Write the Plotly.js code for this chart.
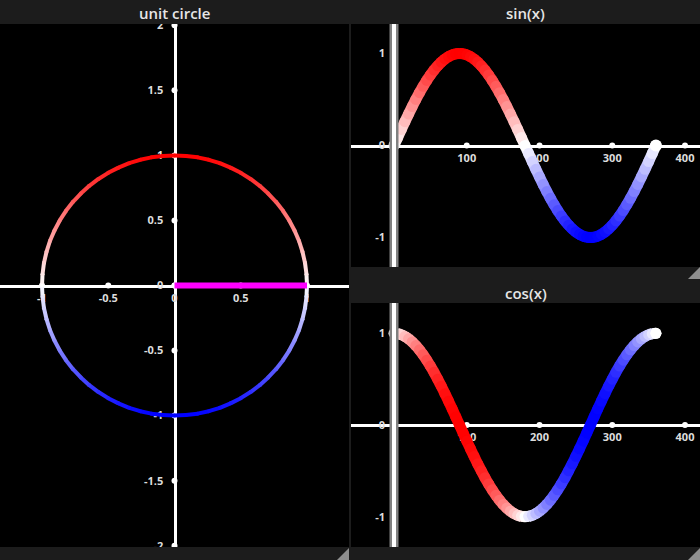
<!DOCTYPE html>
<html>
<head>
<meta charset="utf-8">
<script src="https://cdn.plot.ly/plotly-3.0.1.min.js"></script>
<style>html,body{margin:0;padding:0;background:#1c1c1c;}#chart{width:700px;height:560px;}</style>
</head>
<body>
<div id="chart"></div>
<script>
// ---- data (angle in degrees, sampled every 5°) ----
const deg = [0,5,10,15,20,25,30,35,40,45,50,55,60,65,70,75,80,85,90,95,100,105,110,115,120,125,130,135,140,145,150,155,160,165,170,175,180,185,190,195,200,205,210,215,220,225,230,235,240,245,250,255,260,265,270,275,280,285,290,295,300,305,310,315,320,325,330,335,340,345,350,355,360];
const sinV = [0,0.087,0.174,0.259,0.342,0.423,0.5,0.574,0.643,0.707,0.766,0.819,0.866,0.906,0.94,0.966,0.985,0.996,1,0.996,0.985,0.966,0.94,0.906,0.866,0.819,0.766,0.707,0.643,0.574,0.5,0.423,0.342,0.259,0.174,0.087,0,-0.087,-0.174,-0.259,-0.342,-0.423,-0.5,-0.574,-0.643,-0.707,-0.766,-0.819,-0.866,-0.906,-0.94,-0.966,-0.985,-0.996,-1,-0.996,-0.985,-0.966,-0.94,-0.906,-0.866,-0.819,-0.766,-0.707,-0.643,-0.574,-0.5,-0.423,-0.342,-0.259,-0.174,-0.087,0];
const cosV = [1,0.996,0.985,0.966,0.94,0.906,0.866,0.819,0.766,0.707,0.643,0.574,0.5,0.423,0.342,0.259,0.174,0.087,0,-0.087,-0.174,-0.259,-0.342,-0.423,-0.5,-0.574,-0.643,-0.707,-0.766,-0.819,-0.866,-0.906,-0.94,-0.966,-0.985,-0.996,-1,-0.996,-0.985,-0.966,-0.94,-0.906,-0.866,-0.819,-0.766,-0.707,-0.643,-0.574,-0.5,-0.423,-0.342,-0.259,-0.174,-0.087,0,0.087,0.174,0.259,0.342,0.423,0.5,0.574,0.643,0.707,0.766,0.819,0.866,0.906,0.94,0.966,0.985,0.996,1];
const circleXTicks = [-1,-0.5,0,0.5,1];
const circleYTicks = [-2,-1.5,-1,-0.5,0,0.5,1,1.5,2];
const waveXTicks = [0,100,200,300,400];
const waveYTicks = [-1,0,1];
const panelTitles = ['unit circle','sin(x)','cos(x)'];

// ---- geometry helpers ----
const W = 700, H = 560;
const px = p => p / W;
const py = p => 1 - p / H;
const dL = {x:[0, px(349)], y:[py(547), py(24)]};
const dS = {x:[px(351), 1], y:[py(267), py(24)]};
const dC = {x:[px(351), 1], y:[py(547), py(303)]};
const rLx = [-1.317, 1.317], rLy = [-2.01, 2.01];
const rWx = [-59.1, 420.6], rSy = [-1.32, 1.32], rCy = [-1.33, 1.33];
const posAt = (v, r, d) => d[0] + (v - r[0]) / (r[1] - r[0]) * (d[1] - d[0]);

function col(v){
  v = Math.max(-1, Math.min(1, v));
  if (v >= 0){ const g = Math.round(255*(1-v)); return `rgb(255,${g},${g})`; }
  const g = Math.round(255*(1+v)); return `rgb(${g},${g},255)`;
}

const traces = [];
function dots(xs, ys, xa, ya){
  traces.push({type:'scatter', mode:'markers', x:xs, y:ys, xaxis:xa, yaxis:ya,
    marker:{size:6, color:'#ffffff'}, hoverinfo:'skip', showlegend:false});
}
function curve(xs, ys, cs, xa, ya, width){
  for (let i = 0; i < xs.length - 1; i++){
    traces.push({type:'scatter', mode:'lines', x:[xs[i], xs[i+1]], y:[ys[i], ys[i+1]],
      xaxis:xa, yaxis:ya, line:{color:col((cs[i]+cs[i+1])/2), width:width},
      hoverinfo:'skip', showlegend:false});
  }
  traces.push({type:'scatter', mode:'markers', x:xs, y:ys, xaxis:xa, yaxis:ya,
    marker:{size:width, color:cs.map(col), line:{width:0}}, hoverinfo:'skip', showlegend:false});
}
const cur = deg.length - 1;

// unit circle
dots(circleXTicks, circleXTicks.map(()=>0), 'x', 'y');
dots(circleYTicks.map(()=>0), circleYTicks, 'x', 'y');
curve(cosV, sinV, sinV, 'x', 'y', 4);
traces.push({type:'scatter', mode:'lines', x:[0, cosV[cur]], y:[0, sinV[cur]], xaxis:'x', yaxis:'y',
  line:{color:'#ff00ff', width:6}, hoverinfo:'skip', showlegend:false});

// sin
dots(waveXTicks, waveXTicks.map(()=>0), 'x2', 'y2');
curve(deg, sinV, sinV, 'x2', 'y2', 11);
traces.push({type:'scatter', mode:'markers', x:[deg[cur]], y:[sinV[cur]], xaxis:'x2', yaxis:'y2',
  marker:{size:12, color:'#ffffff'}, hoverinfo:'skip', showlegend:false});

// cos
dots(waveXTicks, waveXTicks.map(()=>0), 'x3', 'y3');
curve(deg, cosV, sinV, 'x3', 'y3', 11);
traces.push({type:'scatter', mode:'markers', x:[deg[cur]], y:[cosV[cur]], xaxis:'x3', yaxis:'y3',
  marker:{size:11, color:'#ffffff'}, hoverinfo:'skip', showlegend:false});

const tickfont = {family:'Open Sans', size:11, color:'#dddddd', weight:'bold'};
const baseAx = {showgrid:false, zeroline:false, ticks:'', tickfont:tickfont, layer:'below traces', fixedrange:true};

function xa(d, r, dy, ry, tv){
  return Object.assign({}, baseAx, {domain:d, range:r, anchor:'free', position:posAt(0, ry, dy),
    tickmode:'array', tickvals:tv, ticktext:tv.map(String), showline:true, linecolor:'#ffffff', linewidth:3, ticklabelstandoff:1});
}
function ya(d, r, dx, rx, tv, line, standoff){
  return Object.assign({}, baseAx, {domain:d, range:r, anchor:'free', position:posAt(0, rx, dx),
    tickmode:'array', tickvals:tv, ticktext:tv.map(String), showline:line, linecolor:'#ffffff', linewidth:3, ticklabelstandoff:standoff});
}

const shapes = [];
function rect(x0,y0,x1,y1,color){
  shapes.push({type:'rect', xref:'paper', yref:'paper', x0:px(x0), x1:px(x1), y0:py(y0), y1:py(y1),
    fillcolor:color, line:{width:0}, layer:'above'});
}
function tri(xr, yb, s){
  shapes.push({type:'path', xref:'paper', yref:'paper', layer:'above',
    path:`M ${px(xr-s)},${py(yb)} L ${px(xr)},${py(yb)} L ${px(xr)},${py(yb-s)} Z`,
    fillcolor:'#8f8f8f', line:{width:0}});
}
const barBg = '#1c1c1c';
rect(0,0,700,24,barBg);
rect(351,267,700,303,barBg);
rect(0,547,700,560,barBg);
rect(349,0,351,560,barBg);
tri(349,560,12); tri(700,279,12); tri(700,560,12);
// vertical axis bars at x = 0 in the wave panels
[['x2','y2 domain'],['x3','y3 domain']].forEach(([xr,yr])=>{
  shapes.push({type:'line', xref:xr, yref:yr, x0:0, x1:0, y0:0, y1:1, layer:'above', line:{color:'#808080', width:9}});
  shapes.push({type:'line', xref:xr, yref:yr, x0:0, x1:0, y0:0, y1:1, layer:'above', line:{color:'#ffffff', width:4}});
});

const tfont = {family:'Open Sans', size:15, color:'#e6e6e6', weight:600};
const annotations = [
  {text:panelTitles[0], x:px(174.5), y:py(13)},
  {text:panelTitles[1], x:px(525.5), y:py(13)},
  {text:panelTitles[2], x:px(525.5), y:py(293)}
].map(a => Object.assign(a, {xref:'paper', yref:'paper', showarrow:false, xanchor:'center', yanchor:'middle', font:tfont}));

const layout = {
  width:W, height:H, margin:{l:0,r:0,t:0,b:0,pad:0},
  paper_bgcolor:'#1c1c1c', plot_bgcolor:'#000000',
  showlegend:false, hovermode:false,
  xaxis: xa(dL.x, rLx, dL.y, rLy, circleXTicks),
  yaxis: ya(dL.y, rLy, dL.x, rLx, circleYTicks, true, 8),
  xaxis2: xa(dS.x, rWx, dS.y, rSy, waveXTicks),
  yaxis2: ya(dS.y, rSy, dS.x, rWx, waveYTicks, false, 9),
  xaxis3: xa(dC.x, rWx, dC.y, rCy, waveXTicks),
  yaxis3: ya(dC.y, rCy, dC.x, rWx, waveYTicks, false, 9),
  shapes: shapes,
  annotations: annotations
};
Plotly.newPlot('chart', traces, layout, {displayModeBar:false, staticPlot:true});
</script>
</body>
</html>
